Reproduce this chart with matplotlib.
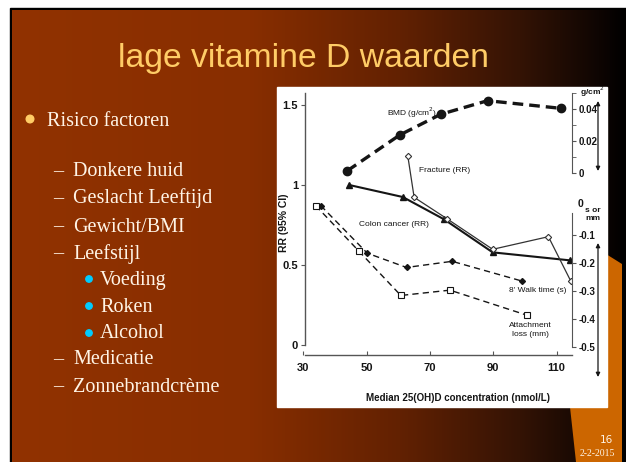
import numpy as np
import matplotlib
matplotlib.use("Agg")
import matplotlib.pyplot as plt
from matplotlib.patches import Rectangle, Polygon, Circle

# data
bmd_x = [43.9, 60.5, 73.4, 88.2, 111.4]
bmd_y = [0.0014, 0.0238, 0.0367, 0.0452, 0.0404]          # g/cm2

colon_x = [44.5, 61.4, 74.5, 89.8, 114.2]
colon_y = [1.0, 0.925, 0.785, 0.579, 0.529]               # RR

fracture_x = [63.0, 65.0, 75.3, 89.8, 107.4, 114.4]
fracture_y = [1.181, 0.923, 0.79, 0.598, 0.677, 0.402]    # RR

walk_x = [35.5, 50.2, 62.6, 77.0, 99.2]
walk_y = [0.005, -0.165, -0.216, -0.194, -0.265]          # s

attach_x = [33.9, 47.5, 60.8, 76.3, 100.5]
attach_y = [0.005, -0.157, -0.316, -0.297, -0.386]        # mm

x_ticks = [30, 50, 70, 90, 110]
rr_ticks = [0, 0.5, 1, 1.5]
rr_labels = ["0", "0.5", "1", "1.5"]
bmd_ticks = [0, 0.02, 0.04]
bmd_labels = ["0", "0.02", "0.04"]
s_ticks = [-0.1, -0.2, -0.3, -0.4, -0.5]
s_labels = ["-0.1", "-0.2", "-0.3", "-0.4", "-0.5"]

title = "lage vitamine D waarden"
bullets = [
    (0, "Risico factoren"),
    (1, "Donkere huid"),
    (1, "Geslacht Leeftijd"),
    (1, "Gewicht/BMI"),
    (1, "Leefstijl"),
    (2, "Voeding"),
    (2, "Roken"),
    (2, "Alcohol"),
    (1, "Medicatie"),
    (1, "Zonnebrandcrème"),
]
bullet_y = [119, 170, 197, 225, 252, 278, 305, 332, 358, 385]

W, H = 626, 462
fig = plt.figure(figsize=(W / 100, H / 100), dpi=100)

# slide background in pixel coordinates
bg = fig.add_axes([0, 0, 1, 1])
bg.set_xlim(0, W)
bg.set_ylim(H, 0)
bg.axis("off")
bg.add_patch(Rectangle((0, 0), W, H, color="white", zorder=0))
bg.add_patch(Rectangle((10, 8), W - 10, H - 8, color="black", zorder=1))

stops_x = [12, 250, 400, 520, 600, 626]
stops_c = np.array([[145, 50, 0], [136, 46, 0], [98, 33, 2],
                    [52, 19, 5], [14, 5, 2], [0, 0, 0]]) / 255.0
gx = np.linspace(12, W, 400)
grad = np.stack([np.interp(gx, stops_x, stops_c[:, k]) for k in range(3)], axis=-1)
bg.imshow(grad[np.newaxis, :, :], extent=(12, W, H, 10), aspect="auto", zorder=2)

wedge = [(565, 228), (590, 244), (622, 264), (622, 462), (576, 462),
         (570, 407), (566, 300)]
bg.add_patch(Polygon(wedge, closed=True, color="#cc6600", zorder=3, lw=0))

# chart picture area
bg.add_patch(Rectangle((277, 87), 330, 320, color="white", zorder=4))

bg.text(304, 67, title, fontsize=24.3, color="#ffcc66", family="Liberation Sans",
        ha="center", va="baseline", zorder=5)

serif = "Liberation Serif"
txt_col = "#fff4e6"
for (lvl, label), y in zip(bullets, bullet_y):
    base = y + 6.5
    if lvl == 0:
        bg.add_patch(Circle((30, y), 3.8, color="#ffcc66", zorder=5))
        bg.text(47, base, label, fontsize=14.5, family=serif, color=txt_col,
                va="baseline", zorder=5)
    elif lvl == 1:
        bg.text(53, base, "–", fontsize=14.5, family=serif, color=txt_col,
                va="baseline", zorder=5)
        bg.text(73, base, label, fontsize=14.5, family=serif, color=txt_col,
                va="baseline", zorder=5)
    else:
        bg.add_patch(Circle((89, y + 1), 3.2, color="#00ccff", zorder=5))
        bg.text(100, base, label, fontsize=14.5, family=serif, color=txt_col,
                va="baseline", zorder=5)

bg.text(613, 440, "16", fontsize=7.5, family="DejaVu Sans", color=txt_col,
        ha="right", va="center", zorder=5)
bg.text(615, 454, "2-2-2015", fontsize=7, family=serif, color=txt_col,
        ha="right", va="center", zorder=5)

# the chart itself
narrow = ["Liberation Sans Narrow", "Liberation Sans"]
ink = "#151515"

def px_box(left, right, top, bottom):
    return [left / W, 1 - bottom / H, (right - left) / W, (bottom - top) / H]

ax = fig.add_axes(px_box(303.3, 572, 93, 355))
ax.patch.set_alpha(0)
ax.set_xlim(30, 114.85)
ax.set_ylim(-0.0625, 1.575)
for s in ["top", "right"]:
    ax.spines[s].set_visible(False)
ax.spines["left"].set_position(("data", 30.5))
ax.spines["left"].set_bounds(0, 1.575)
ax.spines["bottom"].set_bounds(30.5, 114.85)
for s in ["left", "bottom"]:
    ax.spines[s].set_color("#555555")
    ax.spines[s].set_linewidth(1.0)

ax.set_xticks(x_ticks)
ax.set_xticklabels([str(v) for v in x_ticks], fontsize=8, fontweight="bold",
                   family=narrow, color=ink)
ax.tick_params(axis="x", direction="in", length=3, pad=6, color="#555555")
ax.set_yticks(rr_ticks)
ax.set_yticklabels(rr_labels, fontsize=8, fontweight="bold", family=narrow, color=ink)
ax.tick_params(axis="y", direction="out", length=3, pad=2, color="#555555")

ax.plot(colon_x, colon_y, color=ink, lw=1.5, marker="^", ms=4.5, zorder=4)
ax.plot(fracture_x, fracture_y, color="#333333", lw=0.9, marker="D", ms=3.2,
        mfc="white", mec="#333333", mew=0.8, zorder=5)

ax_b = ax.twinx()
ax_b.set_ylim(-0.11375, 0.05)
for s in ["top", "left", "bottom"]:
    ax_b.spines[s].set_visible(False)
ax_b.spines["right"].set_bounds(0, 0.05)
ax_b.spines["right"].set_color("#555555")
ax_b.set_yticks(bmd_ticks)
ax_b.set_yticklabels(bmd_labels, fontsize=7, fontweight="bold", family=narrow, color=ink)
ax_b.set_yticks([0.01, 0.03, 0.05], minor=True)
ax_b.tick_params(axis="y", which="both", direction="out", length=3, pad=1.5,
                 color="#555555")
ax_b.plot(bmd_x, bmd_y, color=ink, lw=2.4, ls=(0, (3.2, 1.8)), marker="o",
          ms=6, zorder=4)

ax_s = ax.twinx()
ax_s.set_ylim(-0.5286, 0.4071)
for s in ["top", "left", "bottom"]:
    ax_s.spines[s].set_visible(False)
ax_s.spines["right"].set_bounds(-0.5, -0.02)
ax_s.spines["right"].set_color("#555555")
ax_s.set_yticks(s_ticks)
ax_s.set_yticklabels(s_labels, fontsize=7, fontweight="bold", family=narrow, color=ink)
ax_s.tick_params(axis="y", direction="out", length=3, pad=1.5, color="#555555")
ax_s.plot(walk_x, walk_y, color=ink, lw=1.0, ls=(0, (4.5, 3.0)), marker="D",
          ms=3, zorder=4)
ax_s.plot(attach_x, attach_y, color=ink, lw=1.0, ls=(0, (4.5, 3.0)), marker="s",
          ms=5, mfc="white", mec=ink, mew=0.8, zorder=4)

# labels inside the chart picture
def note(x, y, s, size=6, **kw):
    bg.text(x, y, s, fontsize=size, family=narrow, color=ink, zorder=6, **kw)

note(387, 113, "BMD (g/cm$^2$)", va="center")
note(419, 170, "Fracture (RR)", va="center")
note(359, 225, "Colon cancer (RR)", va="center")
note(509, 291, "8' Walk time (s)", va="center")
note(530, 330, "Attachment\nloss (mm)", va="center", ha="center", linespacing=1.4)
note(458, 398, "Median 25(OH)D concentration (nmol/L)", size=7, va="center",
     ha="center", fontweight="bold")
note(284, 223, "RR (95% CI)", size=7.5, va="center", ha="center",
     rotation=90, fontweight="bold")
note(592, 92, "g/cm$^2$", size=6, va="center", ha="center", fontweight="bold")
note(580, 204, "0", size=7.5, va="center", ha="center", fontweight="bold")
note(593, 210, "s or", size=6, va="center", ha="center", fontweight="bold")
note(593, 219, "mm", size=6, va="center", ha="center", fontweight="bold")

arrow = dict(arrowstyle="<|-|>", color=ink, lw=0.9, mutation_scale=6,
             shrinkA=0, shrinkB=0)
bg.annotate("", xy=(598, 101), xytext=(598, 171), arrowprops=arrow, zorder=6)
bg.annotate("", xy=(598, 243), xytext=(598, 377), arrowprops=arrow, zorder=6)

fig.savefig("out.png", dpi=100)
